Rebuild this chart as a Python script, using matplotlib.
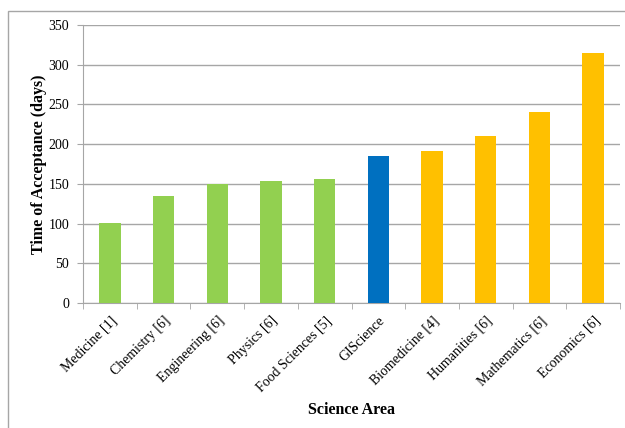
import matplotlib
matplotlib.use('Agg')
import numpy as np
import matplotlib.pyplot as plt
from matplotlib.patches import Rectangle

# Data
areas = ['Medicine [1]', 'Chemistry [6]', 'Engineering [6]', 'Physics [6]',
         'Food Sciences [5]', 'GIScience', 'Biomedicine [4]', 'Humanities [6]',
         'Mathematics [6]', 'Economics [6]']
days = [101, 135, 150, 153, 156, 185, 191, 210, 240, 315]
groups = ['g', 'g', 'g', 'g', 'g', 'b', 'y', 'y', 'y', 'y']
group_colors = {'g': '#92D050', 'b': '#0070C0', 'y': '#FFC000'}

plt.rcParams['font.family'] = ['Liberation Serif', 'DejaVu Serif']

fig = plt.figure(figsize=(6.25, 4.28), dpi=100)
ax = fig.add_axes([83 / 625, 1 - 303 / 428, 537 / 625, 278 / 428])

# outer frame of the chart
fig.patches.append(Rectangle((8 / 625, -0.05), 1.0, 1 - 11 / 428 + 0.05,
                             transform=fig.transFigure, fill=False,
                             edgecolor='#a6a6a6', linewidth=1.0))

x = np.arange(len(areas))
ax.bar(x, days, width=0.4, color=[group_colors[g] for g in groups], zorder=3)

ax.set_xlim(-0.5, len(areas) - 0.5)
ax.set_ylim(0, 350)
ax.set_yticks(np.arange(0, 351, 50))
ax.yaxis.grid(True, color='#a6a6a6', linewidth=1.0, zorder=0)

for s in ['top', 'right']:
    ax.spines[s].set_visible(False)
ax.spines['left'].set_color('#a6a6a6')
ax.spines['bottom'].set_color('#a6a6a6')

ax.set_xticks(x)
ax.set_xticklabels(areas, rotation=45, ha='right', rotation_mode='anchor', fontsize=10)
ax.set_xticks(np.arange(-0.5, len(areas), 1.0), minor=True)
ax.tick_params(axis='x', which='major', length=0, pad=8)
ax.tick_params(axis='x', which='minor', length=4, color='#a6a6a6')
ax.tick_params(axis='y', length=4, color='#a6a6a6', labelsize=10, pad=6)

ax.set_ylabel('Time of Acceptance (days)', fontsize=11.5, fontweight='bold', labelpad=1)
fig.text(352 / 625, 1 - 410 / 428, 'Science Area', fontsize=11.5, fontweight='bold',
         ha='center', va='center')

fig.savefig('out.png', dpi=100)
